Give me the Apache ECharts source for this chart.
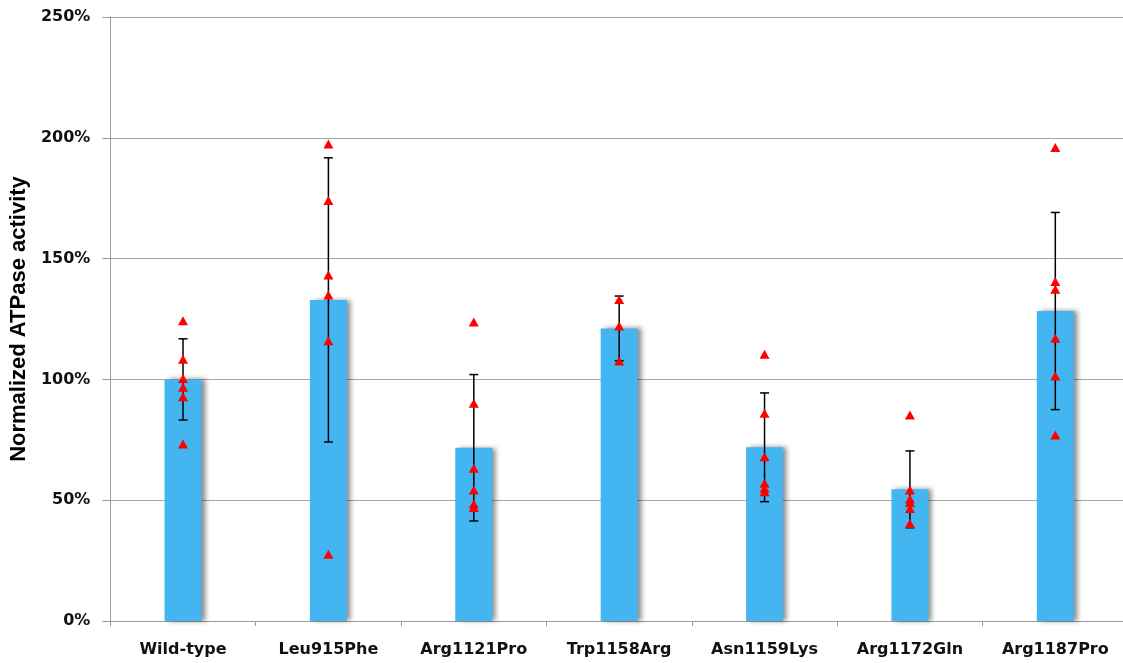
<!DOCTYPE html>
<html>
<head>
<meta charset="utf-8">
<script src="https://cdn.jsdelivr.net/npm/echarts@6/dist/echarts.min.js"></script>
<style>
html,body{margin:0;padding:0;background:#fff;overflow:hidden;}
#main{width:1128px;height:663px;}
</style>
</head>
<body>
<div id="main"></div>
<script>
var categories = ['Wild-type','Leu915Phe','Arg1121Pro','Trp1158Arg','Asn1159Lys','Arg1172Gln','Arg1187Pro'];
var means = [100, 132.9, 71.7, 121.1, 71.9, 54.5, 128.3];
var sds = [16.8, 58.8, 30.3, 13.4, 22.5, 15.9, 40.8];
var replicates = [
    [124.3, 108.3, 100.4, 96.7, 92.8, 73.3],
    [197.4, 174, 143.2, 134.9, 116, 27.6],
    [123.8, 90.1, 63.2, 54.2, 48.4, 47],
    [133.1, 122.1, 107.6],
    [110.4, 86, 68, 57, 54.9, 53.5],
    [85.3, 54.2, 50.5, 49, 46.6, 40.4],
    [196, 140.5, 137.3, 117, 101.4, 77]
];
var yTicks = [0, 50, 100, 150, 200, 250];

var errData = [];
for (var i = 0; i < means.length; i++) {
    errData.push([i, means[i] - sds[i], means[i] + sds[i]]);
}
var pointData = [];
for (var i = 0; i < replicates.length; i++) {
    for (var j = 0; j < replicates[i].length; j++) {
        pointData.push([i, replicates[i][j]]);
    }
}

var myChart = echarts.init(document.getElementById('main'));
var labelFont = 'DejaVu Sans, Verdana, sans-serif';
option = {
    animation: false,
    grid: {left: 109, right: 0, top: 17, bottom: 42, containLabel: false},
    xAxis: {
        type: 'category',
        data: categories,
        axisLine: {lineStyle: {color: '#9a9a9a', width: 1}},
        axisTick: {show: true, length: 5, lineStyle: {color: '#9a9a9a'}},
        axisLabel: {
            color: '#111', fontWeight: 'bold', fontSize: 16, fontFamily: labelFont, margin: 21
        }
    },
    yAxis: {
        type: 'value',
        min: yTicks[0],
        max: yTicks[yTicks.length - 1],
        interval: 50,
        name: 'Normalized ATPase activity',
        nameLocation: 'middle',
        nameGap: 72,
        nameTextStyle: {
            color: '#000', fontWeight: 'bold', fontSize: 22,
            fontFamily: 'Liberation Sans, Arial, sans-serif'
        },
        axisLine: {show: true, lineStyle: {color: '#9a9a9a', width: 1}},
        axisTick: {show: true, length: 8, lineStyle: {color: '#9a9a9a'}},
        splitLine: {lineStyle: {color: '#a6a6a6', width: 1}},
        axisLabel: {
            color: '#111', fontWeight: 'bold', fontSize: 16, fontFamily: labelFont, margin: 20,
            formatter: '{value}%'
        }
    },
    series: [
        {
            name: 'mean',
            type: 'bar',
            data: means,
            barWidth: 37,
            itemStyle: {
                color: '#43B6F2',
                shadowColor: 'rgba(0,0,0,0.45)',
                shadowBlur: 5,
                shadowOffsetX: 4,
                shadowOffsetY: 0
            },
            z: 2
        },
        {
            name: 'sd',
            type: 'custom',
            data: errData,
            z: 3,
            renderItem: function (params, api) {
                var x = api.value(0);
                var lo = api.coord([x, api.value(1)]);
                var hi = api.coord([x, api.value(2)]);
                var hw = 4.5;
                var st = {stroke: '#000', lineWidth: 1.5};
                return {
                    type: 'group',
                    children: [
                        {type: 'line', shape: {x1: lo[0], y1: lo[1], x2: hi[0], y2: hi[1]}, style: st},
                        {type: 'line', shape: {x1: lo[0] - hw, y1: lo[1], x2: lo[0] + hw, y2: lo[1]}, style: st},
                        {type: 'line', shape: {x1: hi[0] - hw, y1: hi[1], x2: hi[0] + hw, y2: hi[1]}, style: st}
                    ]
                };
            }
        },
        {
            name: 'replicates',
            type: 'scatter',
            data: pointData,
            symbol: 'triangle',
            symbolSize: [10, 9],
            itemStyle: {color: '#ff0000', opacity: 1},
            z: 4
        }
    ]
};
myChart.setOption(option, true);
</script>
</body>
</html>
